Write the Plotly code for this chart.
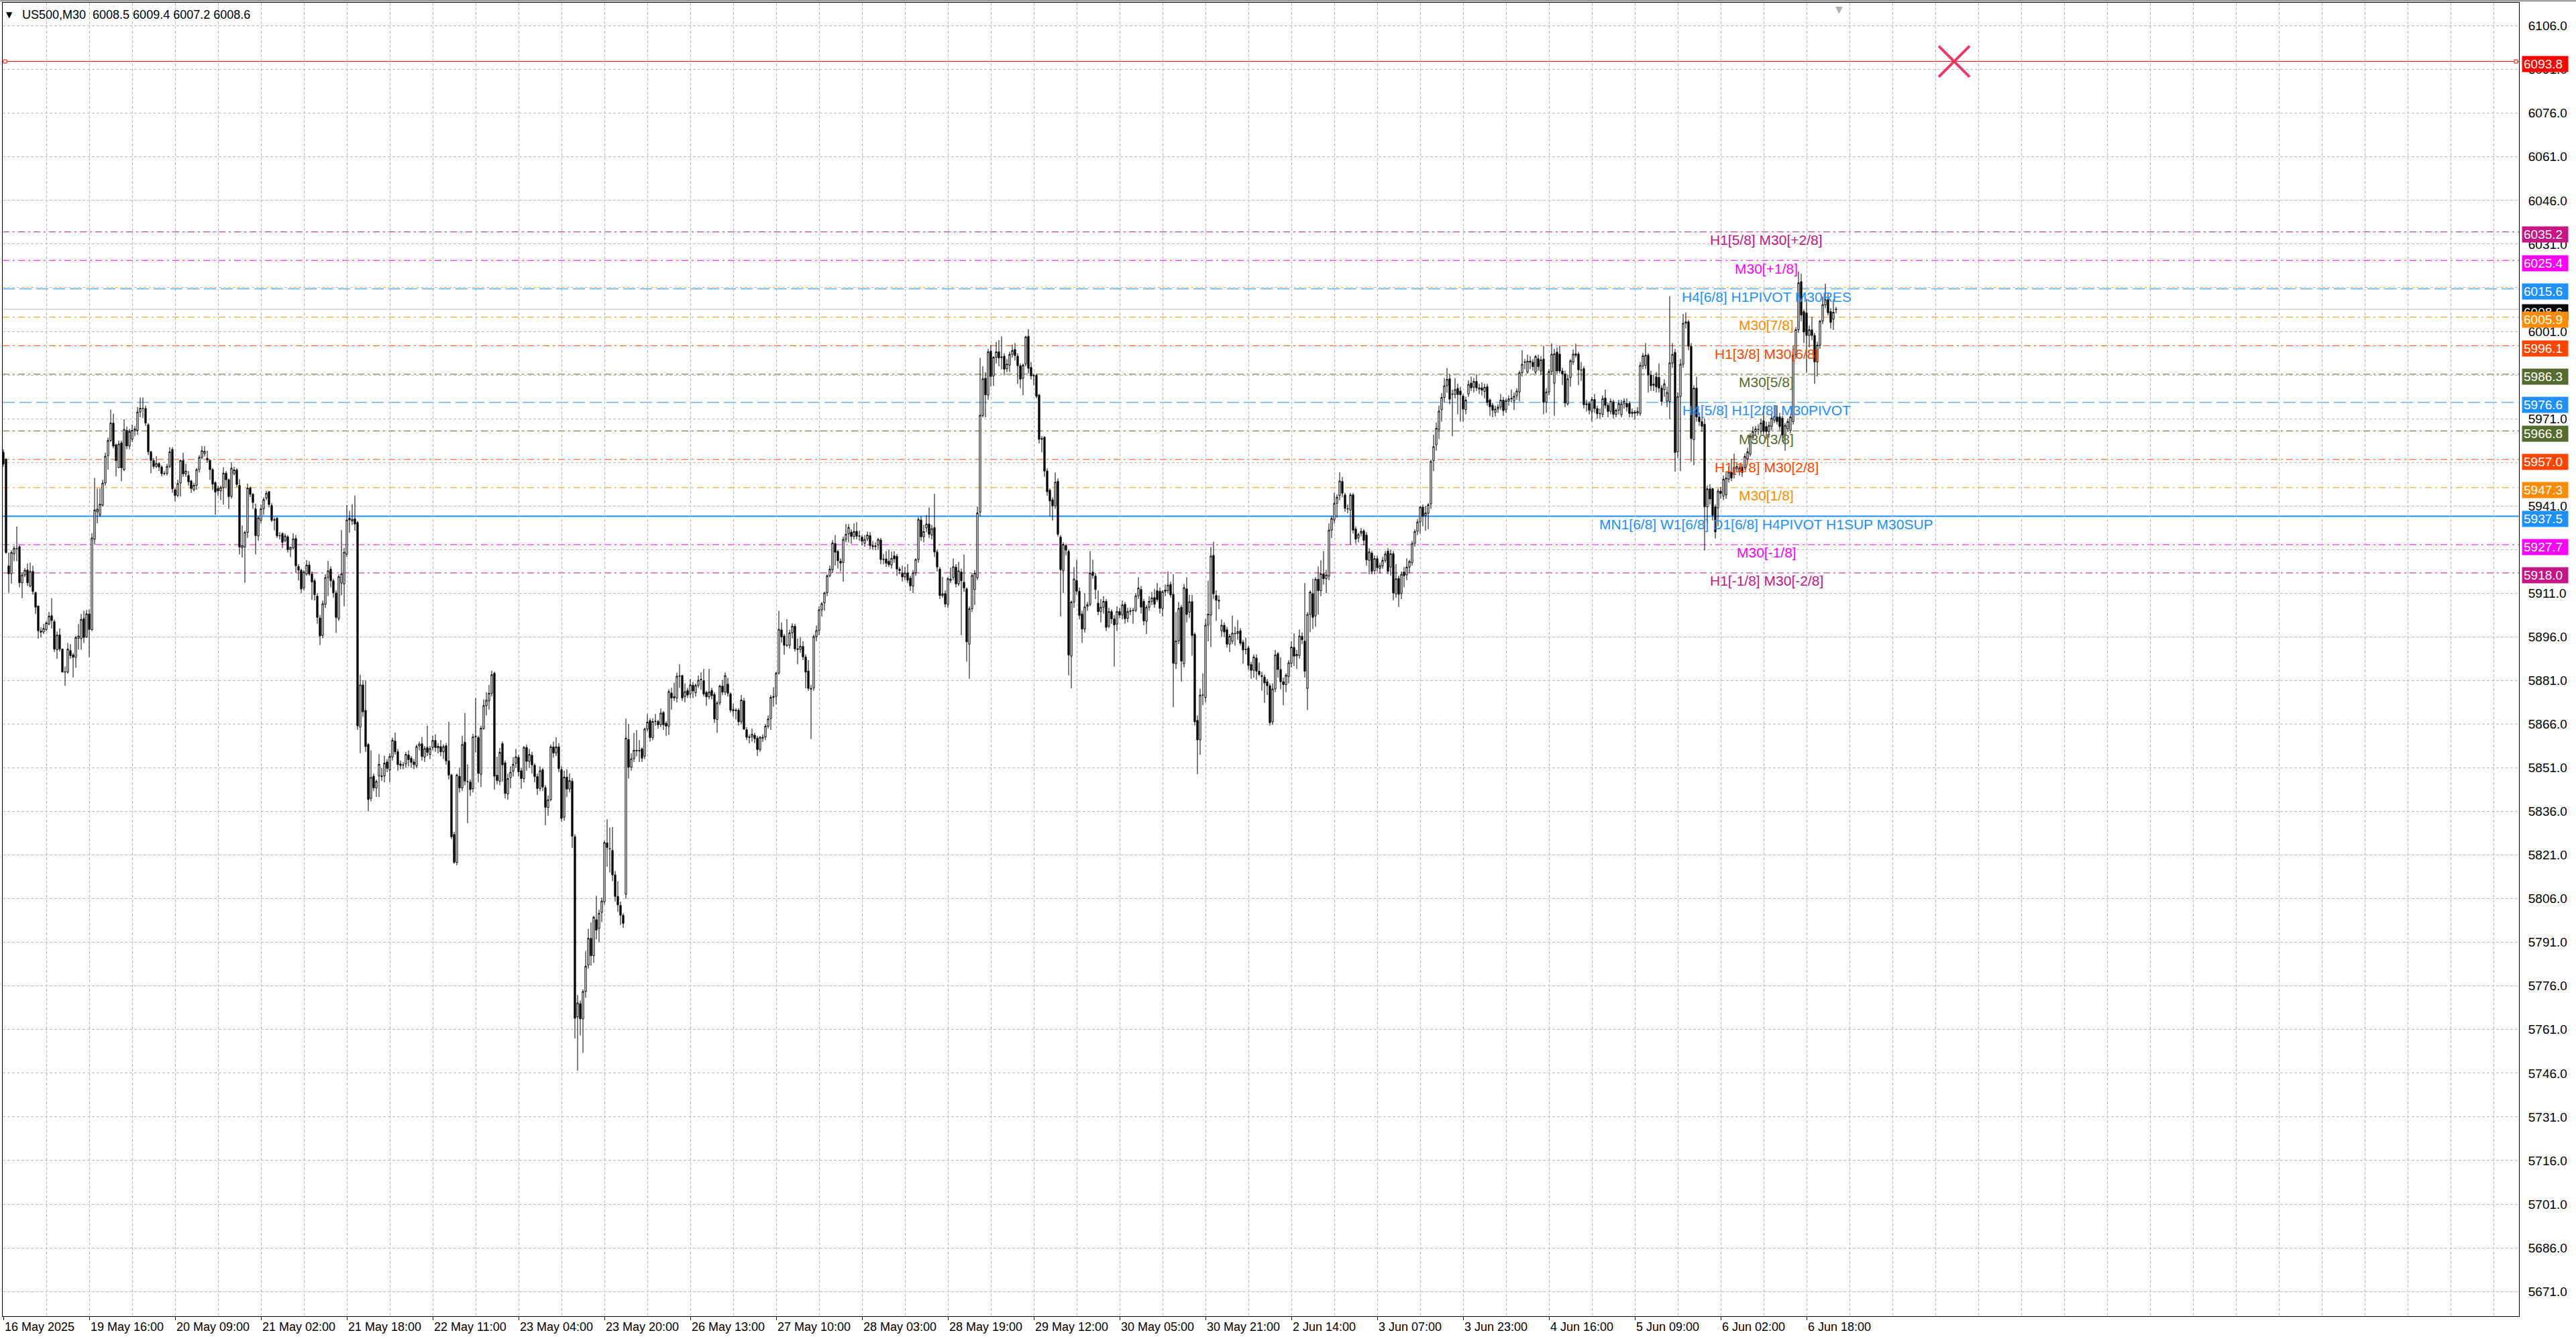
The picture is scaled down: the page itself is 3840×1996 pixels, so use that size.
import plotly.graph_objects as go

# ---------------------------------------------------------------- data
symbol = "US500"
timeframe = "M30"

time_labels = ["16 May 2025", "19 May 16:00", "20 May 09:00", "21 May 02:00", "21 May 18:00",
               "22 May 11:00", "23 May 04:00", "23 May 20:00", "26 May 13:00", "27 May 10:00",
               "28 May 03:00", "28 May 19:00", "29 May 12:00", "30 May 05:00", "30 May 21:00",
               "2 Jun 14:00", "3 Jun 07:00", "3 Jun 23:00", "4 Jun 16:00", "5 Jun 09:00",
               "6 Jun 02:00", "6 Jun 18:00"]
bars_per_label = 32

bar_open = [
    5959.5, 5957.0, 5920.4, 5917.7, 5924.6, 5926.3, 5927.0, 5914.6, 5917.3, 5919.0,
    5913.5, 5918.5, 5911.2, 5906.6, 5898.0, 5897.7, 5898.5, 5900.4, 5903.3, 5901.2,
    5891.6, 5896.7, 5891.8, 5883.9, 5883.9, 5891.3, 5889.8, 5888.9, 5895.5, 5895.4,
    5902.3, 5896.0, 5903.9, 5898.5, 5929.6, 5939.0, 5938.0, 5941.3, 5948.9, 5958.3,
    5963.5, 5969.5, 5962.0, 5954.2, 5962.7, 5953.5, 5967.0, 5961.6, 5964.0, 5966.8,
    5967.0, 5973.3, 5974.6, 5974.5, 5968.9, 5959.6, 5956.6, 5954.6, 5955.6, 5954.4,
    5952.1, 5952.2, 5954.6, 5960.4, 5946.6, 5944.6, 5948.9, 5956.6, 5952.0, 5951.5,
    5949.6, 5946.6, 5948.1, 5953.5, 5957.7, 5959.0, 5957.4, 5956.7, 5953.5, 5949.0,
    5947.0, 5946.2, 5947.3, 5952.3, 5950.0, 5944.3, 5952.1, 5953.4, 5948.1, 5926.6,
    5926.9, 5931.9, 5947.2, 5945.0, 5940.0, 5930.7, 5936.1, 5940.0, 5943.7, 5945.9,
    5941.2, 5936.1, 5936.8, 5930.7, 5931.5, 5929.1, 5930.4, 5926.0, 5926.6, 5929.8,
    5920.2, 5918.9, 5912.9, 5917.6, 5920.7, 5917.6, 5915.3, 5910.0, 5902.5, 5896.5,
    5907.2, 5916.4, 5919.3, 5915.3, 5911.1, 5902.3, 5914.5, 5914.2, 5924.4, 5936.8,
    5935.8, 5936.6, 5935.3, 5865.0, 5879.5, 5870.7, 5859.0, 5840.5, 5848.1, 5844.1,
    5848.2, 5848.2, 5848.2, 5853.0, 5850.3, 5854.7, 5860.2, 5856.5, 5852.3, 5851.9,
    5852.3, 5855.4, 5854.3, 5853.0, 5851.7, 5858.5, 5859.3, 5854.7, 5858.0, 5855.6,
    5858.0, 5860.4, 5857.8, 5858.3, 5856.5, 5858.6, 5853.4, 5848.5, 5828.1, 5818.5,
    5848.1, 5844.1, 5859.8, 5846.3, 5846.1, 5843.8, 5861.9, 5861.4, 5848.8, 5864.6,
    5872.4, 5874.0, 5876.6, 5883.5, 5848.5, 5846.4, 5859.3, 5852.7, 5842.0, 5847.6,
    5849.8, 5852.5, 5854.6, 5850.0, 5847.3, 5858.0, 5853.2, 5855.3, 5851.9, 5848.0,
    5843.9, 5850.3, 5844.2, 5837.4, 5840.1, 5858.2, 5856.1, 5858.2, 5850.4, 5834.0,
    5847.8, 5843.7, 5846.4, 5827.3, 5765.4, 5769.9, 5764.7, 5774.1, 5783.2, 5792.4,
    5786.4, 5798.8, 5795.8, 5801.3, 5804.9, 5825.2, 5823.2, 5822.6, 5814.2, 5806.8,
    5803.7, 5800.3, 5807.6, 5860.7, 5851.2, 5854.1, 5857.0, 5856.8, 5857.5, 5855.0,
    5864.3, 5867.2, 5861.4, 5866.9, 5866.9, 5865.8, 5870.0, 5866.3, 5865.3, 5876.7,
    5875.0, 5875.0, 5882.5, 5882.7, 5875.5, 5877.6, 5876.4, 5879.4, 5876.8, 5879.3,
    5881.2, 5881.0, 5876.9, 5875.4, 5877.6, 5876.2, 5867.6, 5873.3, 5879.1, 5877.0,
    5879.8, 5876.4, 5871.0, 5870.6, 5870.8, 5866.8, 5874.0, 5864.1, 5861.4, 5861.6,
    5862.2, 5861.2, 5857.3, 5861.5, 5861.6, 5865.3, 5867.9, 5875.2, 5875.6, 5883.6,
    5898.4, 5896.3, 5893.1, 5893.1, 5897.4, 5899.7, 5891.9, 5891.7, 5892.7, 5889.1,
    5884.3, 5878.3, 5878.5, 5896.1, 5898.2, 5905.3, 5907.7, 5911.2, 5917.0, 5919.1,
    5928.1, 5925.4, 5922.0, 5921.6, 5929.5, 5931.4, 5932.0, 5930.5, 5932.3, 5930.6,
    5930.3, 5928.2, 5929.7, 5930.8, 5927.4, 5927.0, 5927.6, 5929.3, 5922.6, 5922.8,
    5922.0, 5920.7, 5923.9, 5923.7, 5919.3, 5917.8, 5916.6, 5918.0, 5916.2, 5913.5,
    5918.0, 5922.6, 5936.2, 5930.4, 5933.5, 5934.8, 5931.0, 5933.6, 5925.2, 5919.3,
    5910.2, 5910.9, 5907.2, 5915.4, 5916.4, 5920.0, 5914.2, 5918.3, 5914.8, 5912.5,
    5893.5, 5905.7, 5912.3, 5916.3, 5938.9, 5972.1, 5984.9, 5979.1, 5994.2, 5985.7,
    5992.1, 5994.0, 5992.0, 5992.5, 5988.2, 5989.4, 5993.1, 5994.8, 5992.5, 5989.2,
    5984.9, 5989.8, 5999.3, 5988.6, 5985.7, 5985.9, 5979.1, 5963.9, 5964.6, 5953.0,
    5946.4, 5943.1, 5941.0, 5949.5, 5930.3, 5918.7, 5927.4, 5925.4, 5889.4, 5908.0,
    5915.4, 5911.7, 5903.9, 5898.7, 5906.5, 5907.2, 5918.3, 5916.9, 5907.6, 5904.7,
    5906.2, 5908.2, 5899.7, 5904.7, 5902.2, 5900.4, 5904.7, 5903.5, 5907.2, 5902.4,
    5904.7, 5905.0, 5905.1, 5910.1, 5912.3, 5908.2, 5901.4, 5906.2, 5908.2, 5909.5,
    5911.9, 5911.7, 5905.8, 5911.5, 5911.9, 5914.0, 5910.6, 5886.8, 5894.6, 5906.2,
    5886.8, 5912.5, 5904.5, 5908.1, 5896.9, 5867.3, 5860.6, 5876.0, 5875.2, 5900.0,
    5903.5, 5924.0, 5910.2, 5908.6, 5898.1, 5900.0, 5898.5, 5893.5, 5894.5, 5897.2,
    5897.1, 5898.1, 5894.2, 5891.6, 5892.2, 5886.5, 5884.5, 5888.7, 5884.2, 5882.7,
    5882.2, 5880.6, 5879.2, 5866.8, 5878.1, 5890.2, 5884.8, 5880.6, 5879.6, 5882.4,
    5886.9, 5892.4, 5889.4, 5889.6, 5896.2, 5894.6, 5878.3, 5903.7, 5910.9, 5903.2,
    5915.8, 5911.9, 5917.7, 5916.0, 5916.9, 5932.7, 5936.2, 5941.9, 5944.6, 5949.4,
    5944.8, 5940.1, 5939.6, 5944.8, 5933.1, 5930.0, 5931.6, 5932.4, 5931.0, 5922.3,
    5924.8, 5918.8, 5922.9, 5919.6, 5920.4, 5922.3, 5925.5, 5920.0, 5924.6, 5910.8,
    5916.1, 5910.9, 5918.3, 5917.3, 5920.0, 5921.5, 5928.1, 5932.3, 5935.5, 5940.6,
    5937.7, 5938.5, 5941.7, 5956.6, 5962.0, 5967.3, 5974.1, 5978.3, 5982.3, 5984.7,
    5979.5, 5979.3, 5981.4, 5980.5, 5978.8, 5974.1, 5979.5, 5983.2, 5981.8, 5983.8,
    5981.2, 5981.6, 5980.4, 5982.0, 5977.4, 5975.6, 5973.1, 5974.3, 5975.0, 5977.4,
    5974.1, 5977.0, 5977.8, 5977.2, 5978.9, 5980.2, 5986.8, 5990.5, 5987.0, 5990.8,
    5990.4, 5987.0, 5991.6, 5987.4, 5991.5, 5976.6, 5980.2, 5987.2, 5983.2, 5993.9,
    5993.2, 5987.4, 5986.4, 5976.1, 5985.1, 5990.5, 5993.3, 5993.2, 5987.8, 5988.2,
    5975.8, 5976.2, 5973.5, 5977.6, 5974.5, 5972.7, 5972.5, 5978.1, 5975.6, 5973.5,
    5976.8, 5972.5, 5973.9, 5972.4, 5976.1, 5976.3, 5976.3, 5972.8, 5973.3, 5972.9,
    5972.8, 5989.1, 5989.3, 5992.8, 5986.0, 5982.9, 5985.4, 5985.2, 5981.5, 5981.0,
    5977.0, 5976.9, 5990.1, 5993.8, 5959.6, 5978.6, 5989.7, 6003.8, 6004.3, 5995.9,
    5963.8, 5981.5, 5971.6, 5970.0, 5969.1, 5940.7, 5946.9, 5946.9, 5940.7, 5940.3,
    5946.1, 5944.4, 5944.8, 5950.2, 5952.6, 5951.8, 5953.8, 5953.0, 5954.3, 5954.3,
    5957.2, 5958.8, 5964.6, 5966.6, 5967.3, 5966.6, 5970.3, 5968.3, 5966.6, 5968.3,
    5970.5, 5971.6, 5971.6, 5971.2, 5965.4, 5967.5, 5967.0, 5970.0, 5993.0, 6001.6,
    6018.1, 6007.8, 6007.4, 5999.6, 6001.6, 5999.6, 5990.5, 5996.3, 6004.5, 6010.1,
    6011.9, 6007.8, 6005.2, 6008.5,
]

bar_high = [
    5960.5, 5957.5, 5925.0, 5925.8, 5927.3, 5933.9, 5927.5, 5918.0, 5919.6, 5921.2,
    5921.5, 5920.5, 5911.6, 5906.8, 5899.3, 5900.4, 5901.5, 5904.6, 5909.3, 5902.0,
    5897.8, 5898.9, 5892.0, 5885.8, 5893.9, 5893.5, 5890.5, 5896.4, 5900.4, 5903.9,
    5905.0, 5905.3, 5905.4, 5931.6, 5950.6, 5947.0, 5947.0, 5950.0, 5959.3, 5964.5,
    5974.1, 5972.7, 5962.5, 5963.5, 5963.5, 5970.8, 5968.3, 5967.5, 5969.0, 5968.5,
    5975.0, 5978.3, 5978.3, 5975.5, 5969.5, 5960.0, 5957.5, 5958.1, 5956.0, 5955.0,
    5953.0, 5955.5, 5961.2, 5961.2, 5947.0, 5950.0, 5957.0, 5959.3, 5955.5, 5953.0,
    5950.0, 5949.0, 5954.0, 5958.5, 5961.6, 5961.5, 5960.0, 5957.0, 5954.0, 5949.5,
    5948.0, 5948.0, 5954.3, 5953.0, 5950.5, 5956.0, 5954.5, 5954.0, 5950.2, 5934.3,
    5932.5, 5948.7, 5947.7, 5945.5, 5941.8, 5937.5, 5941.5, 5944.0, 5946.2, 5946.2,
    5942.0, 5937.0, 5937.2, 5932.0, 5932.0, 5931.5, 5931.0, 5927.0, 5931.6, 5931.0,
    5921.0, 5919.5, 5918.9, 5922.4, 5922.0, 5918.5, 5916.0, 5911.0, 5903.5, 5908.5,
    5917.5, 5922.1, 5920.3, 5916.0, 5912.0, 5917.5, 5932.7, 5926.6, 5941.3, 5939.3,
    5941.6, 5944.6, 5935.8, 5883.0, 5881.1, 5881.0, 5859.5, 5857.0, 5849.0, 5847.0,
    5855.7, 5851.0, 5855.2, 5854.0, 5856.0, 5861.4, 5863.1, 5857.5, 5853.5, 5853.0,
    5856.5, 5857.0, 5855.0, 5854.0, 5859.0, 5860.0, 5861.6, 5858.5, 5865.5, 5858.5,
    5862.0, 5862.5, 5859.5, 5860.5, 5859.0, 5859.5, 5866.8, 5849.0, 5829.0, 5849.0,
    5851.0, 5862.0, 5869.8, 5852.2, 5847.0, 5862.7, 5875.0, 5862.0, 5865.5, 5874.5,
    5877.0, 5879.5, 5884.4, 5884.0, 5854.8, 5857.8, 5860.0, 5853.5, 5849.0, 5851.5,
    5854.6, 5857.5, 5855.5, 5851.0, 5858.5, 5859.0, 5857.5, 5856.5, 5852.5, 5849.0,
    5851.5, 5851.0, 5845.0, 5841.5, 5859.0, 5860.0, 5861.5, 5859.5, 5851.5, 5850.0,
    5850.5, 5849.0, 5847.5, 5828.2, 5772.9, 5771.0, 5774.8, 5788.0, 5795.6, 5797.8,
    5800.2, 5807.0, 5802.2, 5806.4, 5826.0, 5833.3, 5830.5, 5830.6, 5815.5, 5812.0,
    5805.0, 5801.0, 5867.9, 5866.0, 5856.0, 5863.0, 5864.0, 5860.5, 5858.0, 5864.8,
    5869.5, 5868.0, 5868.0, 5869.5, 5867.5, 5871.4, 5870.5, 5867.0, 5878.0, 5878.5,
    5880.3, 5883.7, 5886.6, 5883.0, 5880.0, 5878.5, 5881.5, 5880.5, 5880.0, 5882.7,
    5883.8, 5885.0, 5877.5, 5885.0, 5878.5, 5877.0, 5874.0, 5879.6, 5881.2, 5883.8,
    5881.9, 5877.0, 5873.0, 5871.5, 5871.5, 5876.0, 5875.0, 5865.0, 5862.5, 5864.5,
    5863.0, 5862.0, 5862.0, 5862.5, 5866.0, 5869.0, 5876.0, 5878.7, 5884.0, 5905.0,
    5901.0, 5897.0, 5902.1, 5898.5, 5900.7, 5900.5, 5895.5, 5896.0, 5894.5, 5890.0,
    5888.0, 5879.5, 5896.8, 5899.9, 5906.5, 5908.0, 5911.5, 5917.5, 5920.5, 5929.3,
    5931.0, 5926.0, 5923.0, 5930.5, 5934.8, 5934.8, 5933.0, 5935.0, 5935.4, 5932.5,
    5931.0, 5931.0, 5932.2, 5932.0, 5929.0, 5928.5, 5930.0, 5930.0, 5924.5, 5925.5,
    5926.0, 5925.3, 5925.5, 5924.5, 5920.0, 5920.5, 5920.0, 5921.0, 5917.0, 5919.0,
    5923.0, 5937.2, 5937.5, 5934.5, 5937.9, 5940.5, 5934.5, 5945.2, 5926.0, 5920.0,
    5916.6, 5912.0, 5916.5, 5919.8, 5922.9, 5921.0, 5921.8, 5919.5, 5924.3, 5913.0,
    5906.5, 5918.0, 5919.0, 5940.8, 5991.9, 5989.0, 5987.0, 5995.0, 5996.4, 5992.5,
    5997.4, 5998.0, 5999.3, 5993.5, 5991.5, 5994.0, 5996.5, 5997.0, 5993.5, 5990.0,
    5990.0, 5999.5, 6001.8, 5990.5, 5986.5, 5986.5, 5979.5, 5965.0, 5965.0, 5954.0,
    5947.0, 5944.0, 5952.5, 5950.5, 5931.0, 5928.5, 5928.0, 5926.0, 5908.5, 5920.0,
    5922.5, 5913.0, 5905.0, 5911.0, 5908.0, 5925.5, 5922.5, 5918.0, 5912.0, 5909.0,
    5910.0, 5909.0, 5906.0, 5905.5, 5903.5, 5906.5, 5906.0, 5908.5, 5908.0, 5906.0,
    5906.0, 5906.0, 5911.0, 5916.5, 5913.5, 5909.0, 5907.0, 5910.0, 5911.5, 5912.5,
    5914.5, 5913.0, 5912.0, 5914.0, 5918.5, 5915.0, 5917.5, 5904.5, 5908.0, 5907.0,
    5914.2, 5916.5, 5910.5, 5910.5, 5897.5, 5869.0, 5878.2, 5883.5, 5902.1, 5915.3,
    5926.9, 5928.7, 5912.0, 5910.3, 5902.0, 5901.0, 5899.5, 5897.0, 5903.3, 5899.5,
    5901.8, 5899.0, 5895.0, 5895.8, 5893.0, 5887.5, 5890.0, 5890.0, 5887.2, 5884.0,
    5883.0, 5881.6, 5880.0, 5880.0, 5891.5, 5890.8, 5889.0, 5882.0, 5883.5, 5888.0,
    5894.5, 5897.2, 5891.5, 5898.5, 5897.5, 5914.5, 5904.5, 5912.0, 5916.0, 5916.5,
    5920.2, 5922.3, 5925.5, 5919.0, 5935.0, 5937.5, 5945.5, 5945.0, 5952.6, 5951.0,
    5945.5, 5941.5, 5945.5, 5945.5, 5934.0, 5931.8, 5933.5, 5933.0, 5932.0, 5926.5,
    5925.5, 5924.0, 5924.0, 5921.5, 5923.5, 5925.5, 5926.5, 5926.0, 5925.5, 5921.0,
    5917.0, 5918.5, 5920.0, 5923.0, 5922.5, 5929.0, 5933.0, 5936.5, 5941.0, 5941.5,
    5941.0, 5942.0, 5957.0, 5965.5, 5969.7, 5975.5, 5979.8, 5985.0, 5988.4, 5986.3,
    5981.0, 5985.0, 5983.0, 5982.0, 5979.5, 5978.5, 5984.2, 5985.5, 5985.0, 5986.3,
    5983.0, 5983.5, 5983.0, 5983.0, 5978.0, 5976.5, 5975.5, 5976.0, 5979.5, 5978.5,
    5978.0, 5979.0, 5981.0, 5980.0, 5981.5, 5987.5, 5994.5, 5991.5, 5993.0, 5992.5,
    5991.5, 5992.9, 5993.0, 5992.5, 5996.1, 5981.5, 5988.0, 5996.9, 5995.0, 5995.5,
    5996.2, 5988.5, 5987.5, 5986.0, 5991.5, 5994.8, 5996.8, 5994.0, 5990.5, 5989.0,
    5977.5, 5977.0, 5978.5, 5979.5, 5975.5, 5974.5, 5979.0, 5981.0, 5976.5, 5978.0,
    5977.5, 5974.5, 5977.5, 5977.5, 5978.0, 5978.0, 5977.0, 5974.5, 5974.0, 5975.0,
    5990.5, 5993.6, 5997.0, 5993.5, 5987.5, 5986.0, 5987.0, 5990.0, 5982.5, 5984.5,
    5982.0, 6013.1, 5997.0, 5995.0, 5980.0, 5991.5, 6007.0, 6007.5, 6005.0, 5997.0,
    5982.5, 5985.4, 5973.0, 5971.5, 5971.0, 5948.0, 5948.5, 5947.3, 5941.5, 5947.0,
    5947.5, 5951.5, 5952.8, 5954.5, 5957.2, 5959.0, 5956.0, 5955.0, 5955.5, 5959.0,
    5961.0, 5966.0, 5968.3, 5968.5, 5969.0, 5971.0, 5975.5, 5970.0, 5970.0, 5972.5,
    5975.5, 5975.6, 5973.0, 5972.0, 5969.5, 5971.0, 5972.5, 5996.0, 6002.5, 6021.6,
    6020.8, 6008.5, 6012.2, 6003.0, 6006.0, 6000.5, 5997.5, 6005.0, 6013.0, 6017.4,
    6014.0, 6009.0, 6012.0, 6009.4,
]

bar_low = [
    5954.5, 5924.5, 5911.2, 5914.3, 5922.0, 5922.0, 5913.0, 5909.3, 5916.5, 5913.5,
    5913.0, 5910.5, 5903.9, 5895.4, 5895.8, 5897.0, 5898.0, 5900.0, 5898.9, 5890.8,
    5888.5, 5891.0, 5883.8, 5879.2, 5883.4, 5888.5, 5882.0, 5885.4, 5891.6, 5891.6,
    5893.9, 5895.6, 5889.0, 5898.0, 5927.7, 5935.0, 5937.3, 5940.8, 5948.0, 5953.5,
    5963.0, 5960.8, 5951.2, 5954.0, 5949.5, 5953.0, 5960.5, 5960.5, 5963.0, 5965.0,
    5965.5, 5971.5, 5971.2, 5968.5, 5958.5, 5952.2, 5953.8, 5954.0, 5953.0, 5951.2,
    5951.5, 5951.5, 5954.0, 5945.5, 5942.6, 5944.0, 5944.3, 5951.0, 5951.0, 5948.0,
    5945.5, 5946.0, 5946.6, 5952.5, 5957.0, 5958.0, 5955.8, 5950.0, 5946.5, 5938.0,
    5944.5, 5943.0, 5941.5, 5947.0, 5940.0, 5943.5, 5951.5, 5947.5, 5924.3, 5923.3,
    5914.6, 5930.0, 5944.0, 5940.0, 5924.4, 5929.0, 5935.0, 5938.0, 5943.0, 5940.5,
    5935.5, 5932.6, 5930.0, 5929.5, 5926.5, 5928.5, 5925.0, 5923.5, 5926.0, 5918.0,
    5915.4, 5911.0, 5912.0, 5917.0, 5917.0, 5908.7, 5908.5, 5900.5, 5893.2, 5895.5,
    5906.0, 5910.0, 5913.0, 5909.5, 5897.4, 5901.5, 5910.3, 5906.5, 5923.5, 5931.8,
    5934.5, 5932.5, 5864.0, 5856.0, 5868.5, 5856.5, 5836.0, 5839.5, 5843.0, 5841.0,
    5841.0, 5846.5, 5846.0, 5849.5, 5846.0, 5853.5, 5855.5, 5850.0, 5850.5, 5850.5,
    5851.0, 5851.5, 5851.0, 5850.5, 5851.0, 5857.0, 5853.5, 5853.0, 5855.0, 5854.0,
    5857.0, 5856.5, 5856.0, 5855.0, 5854.0, 5852.0, 5847.0, 5826.5, 5818.0, 5817.5,
    5842.5, 5843.0, 5845.0, 5832.0, 5841.3, 5842.5, 5856.3, 5846.0, 5844.4, 5864.0,
    5869.0, 5871.0, 5875.5, 5843.5, 5845.3, 5845.0, 5846.2, 5840.5, 5840.0, 5844.0,
    5848.0, 5851.0, 5848.0, 5843.8, 5846.0, 5850.0, 5851.0, 5849.0, 5846.0, 5841.7,
    5843.0, 5843.0, 5831.3, 5834.5, 5839.5, 5854.5, 5855.0, 5849.5, 5832.5, 5832.8,
    5841.0, 5842.5, 5823.5, 5758.0, 5746.9, 5759.0, 5753.0, 5772.0, 5782.0, 5783.0,
    5784.0, 5792.0, 5791.0, 5798.0, 5804.0, 5817.0, 5815.0, 5812.0, 5805.0, 5801.5,
    5797.0, 5796.0, 5806.0, 5847.3, 5850.0, 5853.0, 5855.0, 5853.0, 5853.0, 5854.0,
    5863.5, 5860.0, 5860.5, 5865.5, 5864.5, 5865.0, 5864.0, 5862.0, 5862.3, 5871.0,
    5874.0, 5873.5, 5878.5, 5874.0, 5873.5, 5875.0, 5875.0, 5875.0, 5875.5, 5878.5,
    5877.8, 5875.5, 5872.3, 5874.5, 5874.5, 5866.4, 5863.0, 5872.5, 5876.0, 5876.0,
    5875.5, 5870.0, 5868.6, 5867.6, 5865.5, 5866.0, 5864.0, 5860.5, 5859.4, 5860.0,
    5859.5, 5855.1, 5856.5, 5859.9, 5860.5, 5864.5, 5864.0, 5872.0, 5872.8, 5883.0,
    5894.0, 5889.9, 5892.5, 5892.0, 5895.5, 5891.0, 5886.6, 5890.5, 5888.0, 5878.3,
    5877.5, 5860.9, 5877.5, 5894.5, 5896.5, 5903.0, 5905.0, 5910.0, 5916.5, 5918.0,
    5920.5, 5919.5, 5918.5, 5915.0, 5928.5, 5928.5, 5928.0, 5929.5, 5929.5, 5929.0,
    5927.5, 5927.0, 5929.0, 5926.0, 5926.0, 5925.8, 5926.0, 5921.0, 5921.0, 5920.0,
    5920.0, 5919.5, 5921.5, 5917.0, 5917.5, 5915.0, 5915.5, 5914.5, 5911.8, 5911.0,
    5917.0, 5921.5, 5929.0, 5928.5, 5932.0, 5930.0, 5929.5, 5923.5, 5918.5, 5909.0,
    5909.5, 5906.2, 5906.0, 5914.5, 5915.5, 5913.0, 5913.5, 5896.6, 5911.5, 5887.5,
    5881.6, 5904.5, 5907.0, 5915.5, 5937.5, 5971.5, 5971.5, 5977.5, 5982.0, 5982.3,
    5990.0, 5989.0, 5988.0, 5986.0, 5987.0, 5987.0, 5992.0, 5991.0, 5982.9, 5981.5,
    5979.1, 5989.0, 5986.5, 5984.5, 5982.5, 5978.0, 5962.5, 5959.5, 5951.0, 5944.5,
    5937.5, 5936.0, 5940.0, 5930.5, 5903.0, 5911.0, 5924.0, 5882.8, 5878.3, 5906.0,
    5910.5, 5902.0, 5893.9, 5897.5, 5905.0, 5906.5, 5916.0, 5909.0, 5903.5, 5901.0,
    5904.0, 5898.0, 5899.0, 5900.5, 5885.8, 5898.0, 5902.5, 5902.0, 5900.5, 5901.0,
    5903.5, 5900.5, 5904.5, 5909.0, 5904.0, 5900.0, 5897.0, 5905.0, 5907.0, 5906.0,
    5908.0, 5904.0, 5903.0, 5910.0, 5911.0, 5909.5, 5871.9, 5885.0, 5893.5, 5880.6,
    5885.5, 5901.0, 5902.5, 5889.5, 5865.5, 5848.8, 5855.5, 5872.5, 5873.5, 5894.5,
    5892.5, 5909.0, 5901.5, 5905.5, 5896.0, 5896.0, 5892.3, 5890.8, 5893.5, 5893.0,
    5895.0, 5893.0, 5886.8, 5890.0, 5884.7, 5881.6, 5882.0, 5881.2, 5882.5, 5877.5,
    5873.4, 5876.0, 5865.5, 5865.8, 5877.0, 5882.0, 5878.0, 5872.5, 5877.0, 5880.0,
    5885.5, 5886.0, 5885.0, 5888.5, 5893.5, 5882.0, 5870.9, 5897.6, 5898.7, 5899.5,
    5903.7, 5910.0, 5914.0, 5911.0, 5915.5, 5930.0, 5935.0, 5937.0, 5943.0, 5944.0,
    5939.0, 5938.5, 5927.7, 5931.5, 5928.0, 5928.5, 5930.5, 5927.5, 5920.5, 5917.5,
    5917.5, 5917.5, 5918.5, 5917.8, 5919.5, 5921.5, 5917.5, 5917.0, 5908.6, 5909.5,
    5906.3, 5909.0, 5913.0, 5915.5, 5918.0, 5920.5, 5927.0, 5931.0, 5931.5, 5934.0,
    5932.5, 5933.0, 5940.0, 5953.0, 5960.0, 5964.0, 5970.0, 5976.5, 5980.0, 5976.0,
    5965.0, 5978.0, 5972.5, 5970.0, 5970.0, 5972.5, 5978.5, 5980.5, 5980.0, 5980.5,
    5979.5, 5979.0, 5978.0, 5975.5, 5972.0, 5971.5, 5971.8, 5973.0, 5974.0, 5972.0,
    5973.0, 5975.5, 5976.5, 5974.0, 5977.5, 5977.0, 5985.5, 5988.0, 5986.5, 5988.0,
    5987.5, 5986.5, 5987.5, 5986.0, 5972.5, 5973.0, 5979.0, 5986.0, 5972.0, 5986.5,
    5986.5, 5982.6, 5975.0, 5975.5, 5982.0, 5989.5, 5992.0, 5982.6, 5984.0, 5974.5,
    5973.5, 5972.5, 5970.0, 5973.0, 5971.0, 5971.0, 5971.5, 5974.5, 5971.5, 5972.5,
    5971.0, 5971.5, 5972.5, 5971.5, 5974.5, 5973.5, 5971.5, 5971.5, 5970.6, 5972.0,
    5972.0, 5988.0, 5988.0, 5980.0, 5980.5, 5980.5, 5980.0, 5980.0, 5975.5, 5978.5,
    5975.0, 5970.8, 5988.5, 5952.8, 5957.5, 5953.0, 5988.5, 6002.0, 5994.5, 5956.2,
    5955.0, 5970.0, 5968.5, 5966.5, 5925.7, 5935.0, 5941.5, 5936.0, 5929.8, 5934.0,
    5943.5, 5943.0, 5943.5, 5949.0, 5949.5, 5950.5, 5952.5, 5951.5, 5951.0, 5953.5,
    5956.0, 5958.0, 5963.5, 5965.0, 5965.5, 5965.5, 5965.5, 5964.0, 5964.5, 5967.0,
    5969.5, 5969.0, 5967.0, 5963.0, 5960.0, 5966.5, 5966.0, 5969.0, 5991.5, 6000.5,
    6004.5, 5997.0, 5986.8, 5995.5, 5998.0, 5983.0, 5985.5, 5995.0, 6003.5, 6009.0,
    6006.5, 6002.0, 6001.5, 6007.2,
]

bar_close = [
    5955.4, 5925.0, 5917.7, 5925.0, 5926.5, 5926.4, 5914.6, 5917.3, 5918.9, 5914.6,
    5918.5, 5911.6, 5906.2, 5898.1, 5897.6, 5898.9, 5900.8, 5903.1, 5901.6, 5891.8,
    5896.6, 5891.8, 5883.9, 5884.0, 5891.8, 5889.6, 5889.0, 5895.8, 5896.3, 5902.0,
    5895.8, 5903.9, 5898.5, 5930.0, 5939.6, 5939.9, 5941.6, 5948.9, 5958.1, 5963.5,
    5969.5, 5961.6, 5956.6, 5962.3, 5954.1, 5967.3, 5961.6, 5966.6, 5967.0, 5967.5,
    5973.3, 5974.6, 5974.5, 5969.5, 5959.6, 5956.7, 5954.6, 5955.6, 5954.4, 5952.1,
    5952.2, 5954.6, 5959.6, 5946.9, 5944.6, 5948.7, 5956.6, 5952.0, 5953.0, 5949.3,
    5947.0, 5948.1, 5953.5, 5957.7, 5960.0, 5959.8, 5956.8, 5953.5, 5948.5, 5945.8,
    5946.2, 5947.3, 5952.3, 5950.0, 5944.2, 5954.0, 5953.4, 5948.4, 5926.9, 5927.4,
    5931.9, 5947.2, 5945.0, 5942.2, 5930.8, 5936.9, 5940.0, 5943.2, 5945.4, 5941.5,
    5936.1, 5936.3, 5930.7, 5930.8, 5928.5, 5930.7, 5926.0, 5926.8, 5929.7, 5920.4,
    5918.9, 5912.5, 5918.3, 5920.7, 5917.6, 5914.9, 5910.5, 5902.7, 5896.3, 5907.4,
    5916.4, 5918.7, 5915.3, 5911.2, 5902.7, 5916.7, 5917.7, 5925.1, 5936.2, 5936.2,
    5936.4, 5934.8, 5865.4, 5879.5, 5870.2, 5858.3, 5840.1, 5847.7, 5844.1, 5846.3,
    5852.2, 5848.0, 5852.6, 5850.8, 5854.9, 5860.5, 5856.5, 5852.1, 5851.8, 5852.0,
    5855.6, 5853.8, 5852.9, 5852.1, 5858.3, 5859.2, 5854.9, 5857.6, 5856.3, 5857.6,
    5860.4, 5858.0, 5858.4, 5856.5, 5858.3, 5853.4, 5848.5, 5827.3, 5818.5, 5848.5,
    5844.1, 5859.0, 5846.4, 5846.2, 5843.5, 5861.6, 5861.7, 5849.1, 5864.6, 5872.4,
    5874.2, 5876.6, 5883.0, 5848.1, 5846.6, 5856.3, 5852.0, 5842.2, 5847.3, 5849.5,
    5852.2, 5854.8, 5849.6, 5847.3, 5858.0, 5853.2, 5855.6, 5852.0, 5848.0, 5843.9,
    5850.0, 5844.4, 5837.4, 5840.0, 5858.2, 5856.1, 5858.2, 5850.7, 5833.6, 5847.8,
    5843.7, 5846.6, 5827.5, 5764.9, 5770.2, 5764.7, 5774.1, 5782.8, 5792.4, 5786.4,
    5799.6, 5795.2, 5801.0, 5805.2, 5825.3, 5823.6, 5823.1, 5814.2, 5806.8, 5803.9,
    5800.3, 5797.5, 5861.2, 5851.2, 5854.1, 5857.0, 5856.8, 5857.0, 5854.3, 5864.3,
    5866.7, 5861.4, 5866.9, 5867.0, 5865.8, 5869.8, 5865.8, 5865.3, 5877.2, 5875.0,
    5875.5, 5882.5, 5882.6, 5875.0, 5877.2, 5876.0, 5879.5, 5877.4, 5879.3, 5881.1,
    5881.4, 5876.4, 5875.4, 5877.1, 5875.8, 5867.8, 5873.3, 5879.1, 5877.0, 5882.7,
    5876.6, 5870.8, 5870.6, 5870.8, 5866.8, 5874.3, 5864.3, 5861.5, 5861.6, 5862.5,
    5861.0, 5857.3, 5861.5, 5861.2, 5865.3, 5867.8, 5875.2, 5875.5, 5883.6, 5898.6,
    5896.0, 5893.1, 5893.2, 5897.4, 5899.7, 5891.9, 5891.7, 5892.8, 5889.1, 5883.9,
    5878.3, 5878.1, 5896.1, 5898.2, 5905.3, 5907.4, 5911.1, 5917.0, 5919.3, 5928.3,
    5925.1, 5922.2, 5921.4, 5929.5, 5931.3, 5933.6, 5930.5, 5932.2, 5930.6, 5930.7,
    5928.9, 5929.5, 5931.0, 5927.4, 5927.0, 5927.3, 5929.5, 5922.6, 5922.7, 5921.3,
    5920.8, 5923.0, 5922.8, 5919.3, 5918.8, 5916.6, 5918.0, 5915.5, 5913.5, 5918.0,
    5922.6, 5936.4, 5930.4, 5932.2, 5934.8, 5931.3, 5933.2, 5925.2, 5920.0, 5910.2,
    5910.8, 5907.3, 5916.0, 5915.9, 5920.1, 5914.2, 5918.7, 5915.3, 5912.8, 5894.3,
    5905.7, 5917.1, 5917.9, 5938.6, 5972.2, 5984.7, 5979.2, 5994.0, 5985.5, 5992.1,
    5994.0, 5991.9, 5992.2, 5988.0, 5989.8, 5993.1, 5994.4, 5992.7, 5989.2, 5984.6,
    5989.4, 5999.1, 5988.3, 5985.7, 5985.9, 5978.7, 5963.9, 5964.2, 5953.0, 5945.9,
    5942.7, 5941.0, 5949.2, 5931.3, 5919.1, 5927.8, 5925.8, 5889.8, 5908.0, 5915.9,
    5911.7, 5903.4, 5898.7, 5906.3, 5907.1, 5917.9, 5917.1, 5912.3, 5904.7, 5906.2,
    5908.2, 5899.3, 5904.7, 5902.2, 5900.1, 5904.7, 5903.5, 5907.0, 5902.2, 5904.7,
    5905.0, 5905.1, 5910.1, 5912.8, 5906.2, 5901.5, 5906.2, 5908.2, 5909.4, 5907.2,
    5908.8, 5905.8, 5911.5, 5912.1, 5913.8, 5910.4, 5886.9, 5894.6, 5905.8, 5887.7,
    5912.9, 5903.7, 5908.1, 5896.5, 5866.8, 5860.6, 5876.0, 5876.0, 5900.0, 5903.8,
    5923.8, 5910.8, 5908.6, 5908.3, 5900.0, 5897.7, 5893.5, 5896.2, 5897.3, 5897.1,
    5897.8, 5893.8, 5891.5, 5891.7, 5886.2, 5884.5, 5889.1, 5884.2, 5883.1, 5882.4,
    5880.2, 5879.2, 5866.5, 5878.1, 5889.8, 5884.8, 5880.6, 5879.6, 5882.8, 5887.1,
    5892.5, 5889.4, 5890.0, 5896.3, 5895.0, 5884.2, 5903.7, 5911.4, 5902.7, 5915.8,
    5911.9, 5917.7, 5916.0, 5917.3, 5932.7, 5936.7, 5941.9, 5944.0, 5949.6, 5945.4,
    5940.2, 5940.0, 5944.8, 5932.7, 5929.6, 5931.2, 5932.3, 5929.2, 5922.5, 5925.2,
    5918.5, 5922.9, 5919.8, 5920.5, 5922.3, 5924.5, 5918.5, 5924.6, 5911.1, 5916.0,
    5910.6, 5917.5, 5917.0, 5920.0, 5921.9, 5928.1, 5932.2, 5935.5, 5940.6, 5937.5,
    5938.6, 5941.4, 5956.3, 5961.4, 5967.7, 5973.6, 5978.3, 5982.3, 5984.5, 5977.7,
    5979.4, 5981.0, 5979.3, 5979.2, 5974.3, 5977.4, 5982.8, 5981.6, 5983.8, 5981.6,
    5981.6, 5980.8, 5981.8, 5976.6, 5975.1, 5973.9, 5974.3, 5975.0, 5977.4, 5973.8,
    5977.2, 5977.8, 5978.0, 5978.7, 5980.5, 5986.8, 5989.7, 5990.4, 5990.8, 5990.4,
    5988.9, 5992.4, 5988.9, 5991.2, 5976.6, 5980.2, 5987.2, 5993.2, 5993.3, 5987.4,
    5987.4, 5986.4, 5976.4, 5984.7, 5990.9, 5993.2, 5992.8, 5987.8, 5987.7, 5975.8,
    5976.1, 5973.9, 5977.6, 5974.5, 5972.7, 5972.8, 5977.9, 5975.6, 5973.5, 5977.0,
    5972.5, 5973.9, 5976.2, 5976.1, 5977.0, 5975.0, 5972.8, 5973.3, 5972.9, 5973.5,
    5989.3, 5992.6, 5992.8, 5986.0, 5982.3, 5982.5, 5981.9, 5981.5, 5976.9, 5983.0,
    5980.0, 5990.2, 5993.1, 5959.4, 5978.6, 5989.7, 6003.8, 6004.3, 5995.9, 5964.2,
    5981.5, 5971.6, 5970.0, 5968.4, 5940.7, 5946.9, 5943.4, 5937.8, 5932.1, 5946.1,
    5945.3, 5950.2, 5950.6, 5952.6, 5950.6, 5954.3, 5954.6, 5954.0, 5952.5, 5958.0,
    5959.6, 5965.0, 5966.6, 5967.5, 5967.3, 5969.5, 5966.6, 5966.6, 5968.7, 5971.2,
    5971.7, 5970.0, 5968.3, 5965.4, 5968.7, 5970.0, 5971.6, 5993.0, 6001.6, 6017.7,
    6006.6, 6000.8, 5999.6, 6001.6, 5999.6, 5990.5, 5996.3, 6004.5, 6010.2, 6011.9,
    6007.4, 6004.1, 6007.6, 6008.6,
]

# Murrey-math style levels drawn by the indicator
level_prices = [6035.2, 6025.4, 6015.6, 6005.9, 5996.1, 5986.3, 5976.6,
                5966.8, 5957.0, 5947.3, 5937.5, 5927.7, 5918.0]
level_texts = ["H1[5/8] M30[+2/8]", "M30[+1/8]", "H4[6/8] H1PIVOT M30RES", "M30[7/8]",
               "H1[3/8] M30[6/8]", "M30[5/8]", "H4[5/8] H1[2/8] M30PIVOT", "M30[3/8]",
               "H1[1/8] M30[2/8]", "M30[1/8]", "MN1[6/8] W1[6/8] D1[6/8] H4PIVOT H1SUP M30SUP",
               "M30[-1/8]", "H1[-1/8] M30[-2/8]"]
level_kinds = ["violet", "magenta", "blue", "orange", "orangered", "olive", "blue",
               "olive", "orangered", "orange", "pivot", "magenta", "violet"]

target_price = 6093.8
signal_bar = 727
label_bar = 657

# ---------------------------------------------------------------- styles
KIND_STYLE = {
    "violet":    ("#C71585", 1, "10px,5px,3px,5px"),
    "magenta":   ("#FF00FF", 1, "10px,5px,3px,5px"),
    "blue":      ("#1E90FF", 1, "18px,7px"),
    "orange":    ("#FF8C00", 1, "10px,5px,3px,5px"),
    "orangered": ("#FF4500", 1, "10px,5px,3px,5px"),
    "olive":     ("#556B2F", 1, "10px,5px,3px,5px"),
    "pivot":     ("#1E90FF", 2, "solid"),
}
FONT = "Liberation Sans, Arial, sans-serif"
GRID = "#c0c0c0"
W, H = 3840, 1996
M_L, M_R, M_T, M_B = 4, 85, 4, 34

n_bars = len(bar_close)
bid = bar_close[-1]

fig = go.Figure()

fig.add_trace(go.Candlestick(
    x=list(range(n_bars)), open=bar_open, high=bar_high, low=bar_low, close=bar_close,
    increasing=dict(line=dict(color="black", width=1), fillcolor="white"),
    decreasing=dict(line=dict(color="black", width=1), fillcolor="black"),
    whiskerwidth=0, hoverinfo="skip", showlegend=False,
))

# signal cross on the target line
fig.add_trace(go.Scatter(
    x=[signal_bar], y=[target_price], mode="markers", hoverinfo="skip", showlegend=False,
    marker=dict(symbol="x-thin", size=46, color="#EE3A66",
                line=dict(color="#EE3A66", width=4)),
))

shapes = []
for p, kind in zip(level_prices, level_kinds):
    color, width, dash = KIND_STYLE[kind]
    shapes.append(dict(type="line", xref="paper", x0=0, x1=1, yref="y", y0=p, y1=p,
                       line=dict(color=color, width=width, dash=dash), layer="between"))
# bid line and target line
shapes.append(dict(type="line", xref="paper", x0=0, x1=1, yref="y", y0=bid, y1=bid,
                   line=dict(color="#c0c0c0", width=1), layer="between"))
shapes.append(dict(type="line", xref="paper", x0=0, x1=1, yref="y", y0=target_price,
                   y1=target_price, line=dict(color="#FF0000", width=1), layer="between"))
for xa in (0, 1):
    shapes.append(dict(type="rect", xref="paper", xsizemode="pixel", xanchor=xa,
                       x0=1 if xa == 0 else -7, x1=6 if xa == 0 else -2,
                       yref="y", ysizemode="pixel", yanchor=target_price, y0=-2.5, y1=2.5,
                       line=dict(color="#FF0000", width=1), fillcolor="white"))
# window frame strip on top
shapes.append(dict(type="line", xref="paper", x0=-0.01, x1=1.03, yref="paper",
                   y0=1 + 3 / (H - M_T - M_B), y1=1 + 3 / (H - M_T - M_B),
                   line=dict(color="#a0a0a0", width=3)))

ann = []
# level names in the chart
for p, txt, kind in zip(level_prices, level_texts, level_kinds):
    color = KIND_STYLE[kind][0]
    ann.append(dict(x=label_bar, y=p, xref="x", yref="y", text=txt, showarrow=False,
                    xanchor="center", yanchor="middle", yshift=-12,
                    font=dict(family=FONT, size=21, color=color)))

# price boxes on the right scale (sit a few px below their price, like the terminal)
def price_box(p, bg):
    return dict(x=1, y=p, xref="paper", yref="y", text=f"{p:.1f}", showarrow=False,
                xanchor="left", yanchor="middle", xshift=4, yshift=-4, align="left",
                width=64, height=19, borderpad=2, bgcolor=bg,
                font=dict(family=FONT, size=19, color="white"))

ann.append(price_box(target_price, "#FF0000"))
for p, kind in zip(level_prices, level_kinds):
    if p < bid and not any(a.get("text") == f"{bid:.1f}" for a in ann):
        ann.append(price_box(bid, "#000000"))
    ann.append(price_box(p, KIND_STYLE[kind][0]))

# time labels, left aligned on their bar
for i, lab in enumerate(time_labels):
    ann.append(dict(x=i * bars_per_label, y=0, xref="x", yref="paper", text=lab,
                    showarrow=False, xanchor="left", yanchor="top", yshift=-4,
                    font=dict(family=FONT, size=18, color="black")))

# header
header = f"{symbol},{timeframe}\u00a0\u00a0" + " ".join(
    f"{v:.1f}" for v in (bar_open[-1], bar_high[-1], bar_low[-1], bar_close[-1]))
ann.append(dict(x=0, y=1, xref="paper", yref="paper", text=header, showarrow=False,
                xanchor="left", yanchor="middle", xshift=27, yshift=-18,
                font=dict(family=FONT, size=18, color="black")))
ann.append(dict(x=0, y=1, xref="paper", yref="paper", text="\u25bc", showarrow=False,
                xanchor="left", yanchor="middle", xshift=3, yshift=-18,
                font=dict(family="DejaVu Sans", size=12, color="black")))
# chart shift marker
ann.append(dict(x=n_bars, y=1, xref="x", yref="paper", text="\u25bc", showarrow=False,
                xanchor="center", yanchor="top", yshift=0,
                font=dict(family="DejaVu Sans", size=14, color="#b0b0b0")))

x_right = (W - M_L - M_R) / 4.0 - 0.25
fig.update_layout(
    width=W, height=H,
    margin=dict(l=M_L, r=M_R, t=M_T, b=M_B),
    paper_bgcolor="white", plot_bgcolor="white",
    showlegend=False, boxgap=0.2,
    shapes=shapes, annotations=ann,
    xaxis=dict(
        range=[-0.25, x_right], rangeslider=dict(visible=False),
        tickmode="array", tickvals=[i * bars_per_label for i in range(len(time_labels))],
        showticklabels=False, ticks="outside", ticklen=5, tickcolor="black",
        showgrid=True, gridcolor=GRID, griddash="4px,3px", gridwidth=1,
        minor=dict(tickmode="linear", tick0=0, dtick=bars_per_label // 2, showgrid=True,
                   gridcolor=GRID, griddash="4px,3px", gridwidth=1, ticks=""),
        showline=True, mirror=True, linecolor="black", linewidth=1, zeroline=False,
        fixedrange=True,
    ),
    yaxis=dict(
        side="right", range=[5662.5, 6114.0],
        tickmode="linear", tick0=5671, dtick=15, tickformat=".1f",
        ticks="", ticklabelstandoff=9,
        tickfont=dict(family=FONT, size=19, color="black"),
        showgrid=True, gridcolor=GRID, griddash="4px,3px", gridwidth=1,
        showline=True, mirror=True, linecolor="black", linewidth=1, zeroline=False,
        fixedrange=True,
    ),
)

fig.write_html("out.html", config={"displayModeBar": False},
               post_script="document.body.style.margin='0';document.body.style.overflow='hidden';")
